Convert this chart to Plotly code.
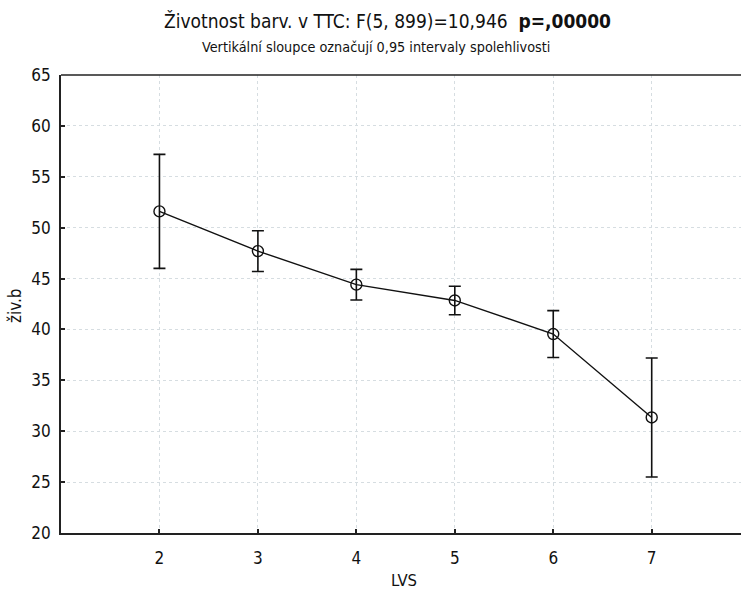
import plotly.graph_objects as go

# LVS groups, group means of živ.b and half-widths of the 0.95 confidence intervals
lvs = [2, 3, 4, 5, 6, 7]
ziv_mean = [51.6, 47.7, 44.4, 42.85, 39.55, 31.35]
ci_half = [5.6, 2.0, 1.5, 1.4, 2.3, 5.85]

y_ticks = [20, 25, 30, 35, 40, 45, 50, 55, 60, 65]

FONT = "DejaVu Sans Condensed, Liberation Sans Narrow, Arial Narrow, sans-serif"

W, H = 741, 592
ML, MR, MT, MB = 61, 0, 75, 59
pw, ph = W - ML - MR, H - MT - MB


def px_x(x):
    return (x - ML) / pw


def px_y(y):
    return (H - MB - y) / ph


fig = go.Figure()
fig.add_trace(go.Scatter(
    x=lvs,
    y=ziv_mean,
    mode="lines+markers",
    line=dict(color="#111111", width=1.4),
    marker=dict(symbol="circle-open", size=11, color="#111111",
                line=dict(width=1.4, color="#111111")),
    error_y=dict(type="data", array=ci_half, visible=True,
                 color="#111111", thickness=1.6, width=6),
    showlegend=False,
    hoverinfo="x+y",
))

axis_common = dict(
    showline=True, linecolor="#222222", linewidth=1.6,
    ticks="inside", ticklen=4, tickwidth=1.5, tickcolor="#222222",
    showgrid=True, gridcolor="#d6dde1", gridwidth=1, griddash="dot",
    zeroline=False,
    tickfont=dict(family=FONT, size=17, color="#111111"),
)

fig.update_xaxes(range=[1, 7.907], tickvals=lvs, ticklabelstandoff=9, **axis_common)
fig.update_yaxes(range=[20, 65], tickvals=y_ticks, ticklabelstandoff=5, **axis_common)

annotations = [
    dict(text="Životnost barv. v TTC: F(5, 899)=10,946  <b>p=,00000</b>",
         x=px_x(387), y=px_y(21), size=19),
    dict(text="Vertikální sloupce označují 0,95 intervaly spolehlivosti",
         x=px_x(376), y=px_y(47), size=14.3),
    dict(text="LVS", x=px_x(404), y=px_y(580), size=16.5),
    dict(text="živ.b", x=px_x(15), y=px_y(306), size=17, textangle=-90),
]
ann = []
for a in annotations:
    ann.append(dict(
        text=a["text"], x=a["x"], y=a["y"], xref="paper", yref="paper",
        showarrow=False, xanchor="center", yanchor="middle",
        textangle=a.get("textangle", 0),
        font=dict(family=FONT, size=a["size"], color="#111111"),
    ))

fig.update_layout(
    width=W, height=H,
    margin=dict(l=ML, r=MR, t=MT, b=MB),
    paper_bgcolor="white", plot_bgcolor="white",
    annotations=ann,
    font=dict(family=FONT, color="#111111"),
)

# Top frame line of the plot area
fig.add_shape(type="line", xref="paper", yref="paper", x0=0, x1=1, y0=1, y1=1,
              line=dict(color="#222222", width=1.6))

fig.write_html("out.html")
